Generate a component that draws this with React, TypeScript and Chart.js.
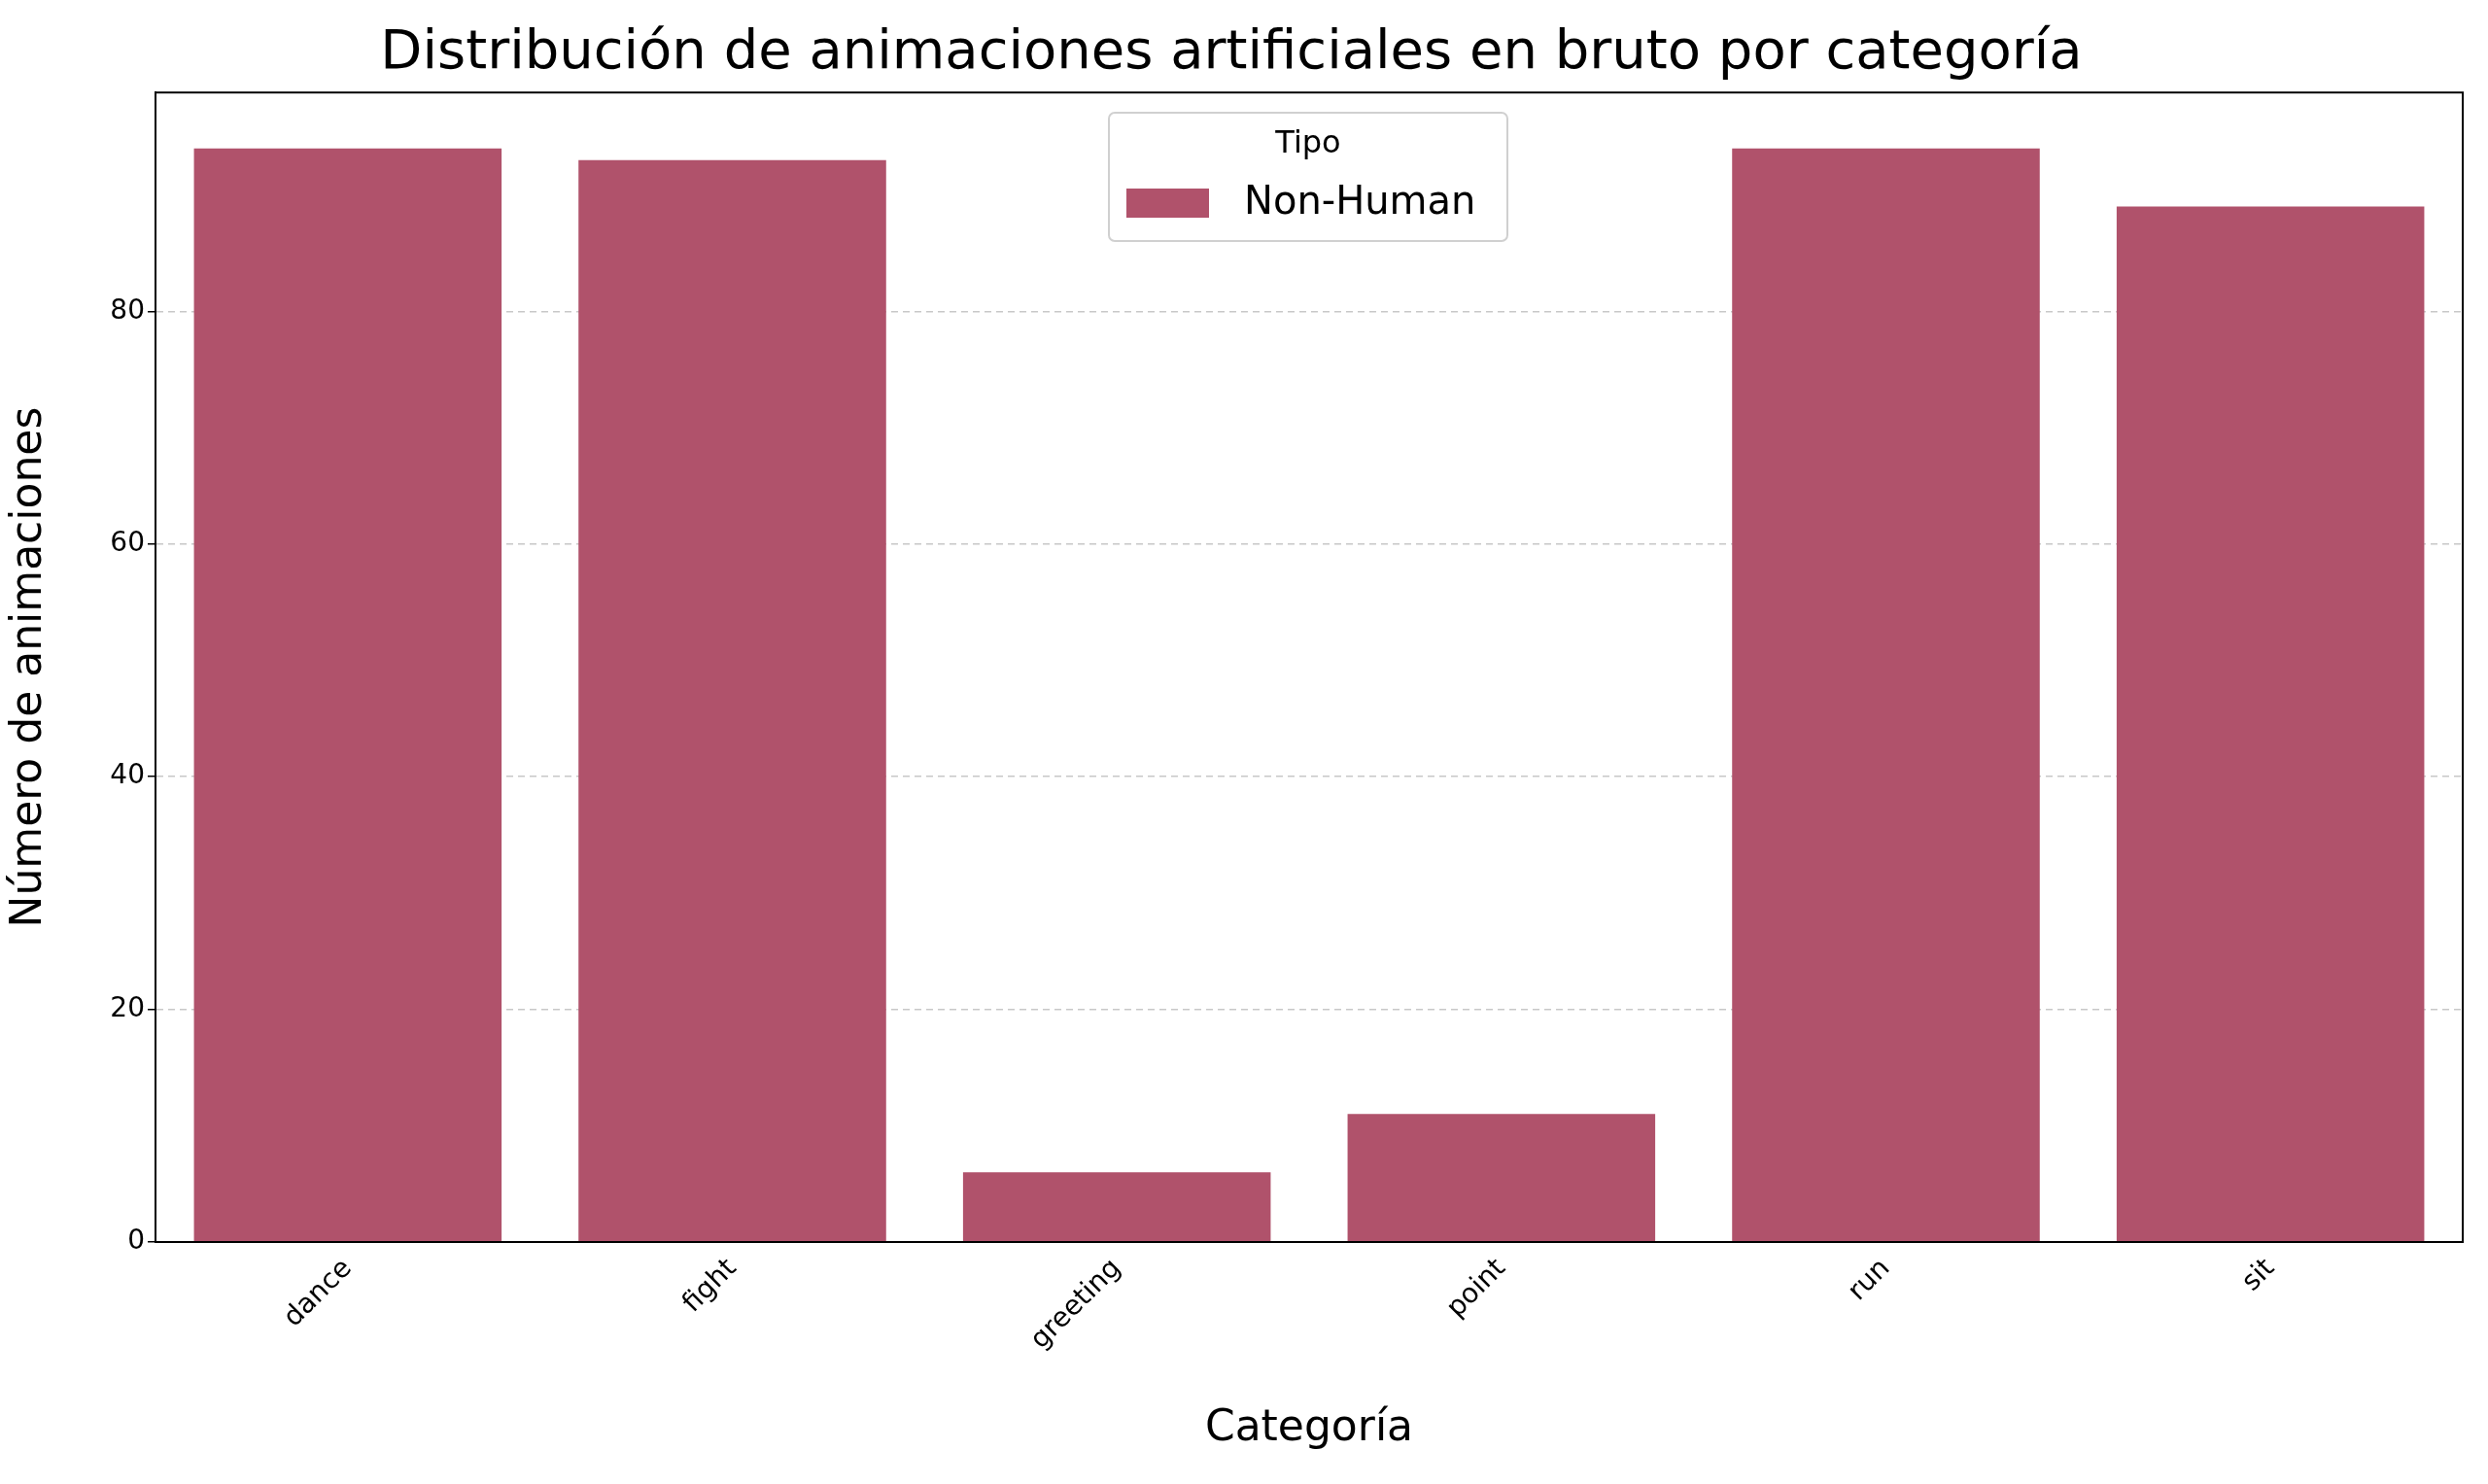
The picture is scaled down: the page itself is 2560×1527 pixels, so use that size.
import { useEffect, useRef } from "react";
import Chart from "chart.js/auto";

const categories = ["dance", "fight", "greeting", "point", "run", "sit"];
const nonHuman = [94, 93, 6, 11, 94, 89];
const yTicks = [0, 20, 40, 60, 80];
const barColor = "#b0526b";
const font = "'DejaVu Sans', sans-serif";

const frameAndLegend = {
  id: "frameAndLegend",
  afterDraw(chart: any) {
    const { ctx, chartArea: a } = chart;
    ctx.save();
    ctx.strokeStyle = "#000";
    ctx.lineWidth = 2;
    ctx.setLineDash([]);
    ctx.strokeRect(a.left, a.top, a.right - a.left, a.bottom - a.top);
    // legend box inside plot, top centre
    const x = 1141, y = 116, w = 410, h = 132;
    ctx.fillStyle = "rgba(255,255,255,0.8)";
    ctx.strokeStyle = "#d0d0d0";
    ctx.lineWidth = 2;
    ctx.beginPath();
    ctx.roundRect(x, y, w, h, 6);
    ctx.fill();
    ctx.stroke();
    ctx.fillStyle = "#000";
    ctx.textAlign = "center";
    ctx.textBaseline = "middle";
    ctx.font = `32px ${font}`;
    ctx.fillText("Tipo", x + w / 2, 149);
    ctx.fillStyle = barColor;
    ctx.fillRect(1159, 194, 85, 30);
    ctx.fillStyle = "#000";
    ctx.textAlign = "left";
    ctx.font = `40px ${font}`;
    ctx.fillText("Non-Human", 1280, 210);
    ctx.restore();
  },
};

const App = () => {
  const canvasRef = useRef<HTMLCanvasElement>(null);

  useEffect(() => {
    document.body.style.margin = "0";
    if (!canvasRef.current) return;
    const chart = new Chart(canvasRef.current, {
      type: "bar",
      data: {
        labels: categories,
        datasets: [
          {
            label: "Non-Human",
            data: nonHuman,
            backgroundColor: barColor,
            categoryPercentage: 0.8,
            barPercentage: 1,
          },
        ],
      },
      options: {
        animation: false,
        responsive: false,
        devicePixelRatio: 1,
        layout: { padding: { left: 0, right: 26, top: 0, bottom: 0 } },
        plugins: {
          legend: { display: false },
          tooltip: { enabled: false },
          title: {
            display: true,
            text: "Distribución de animaciones artificiales en bruto por categoría",
            color: "#000",
            font: { family: font, size: 56, weight: "normal" },
            padding: { top: 22, bottom: 6 },
          },
        },
        scales: {
          x: {
            grid: { display: false },
            border: { color: "#000", width: 2 },
            afterFit: (s: any) => {
              s.height = 1527 - 1278;
            },
            ticks: {
              color: "#000",
              font: { family: font, size: 28 },
              minRotation: 45,
              maxRotation: 45,
            },
            title: {
              display: true,
              text: "Categoría",
              color: "#000",
              font: { family: font, size: 44 },
              padding: { top: 10, bottom: 30 },
            },
          },
          y: {
            min: 0,
            max: 98.8,
            border: { color: "#000", width: 2, display: true, dash: [7, 5] },
            afterFit: (s: any) => {
              s.width = 160;
            },
            afterBuildTicks: (axis: any) => {
              axis.ticks = yTicks.map((v) => ({ value: v }));
            },
            grid: {
              color: (c: any) => (c.tick && c.tick.value === 0 ? "rgba(0,0,0,0)" : "#c8c8c8"),
              lineWidth: 1.5,
              tickColor: "#000",
              tickLength: 8,
              tickBorderDash: [],
            },
            ticks: { color: "#000", font: { family: font, size: 28 } },
            title: {
              display: true,
              text: "Número de animaciones",
              color: "#000",
              font: { family: font, size: 44 },
            },
          },
        },
      },
      plugins: [frameAndLegend],
    });
    return () => chart.destroy();
  }, []);

  return <canvas ref={canvasRef} width={2560} height={1527}></canvas>;
};

export default App;
